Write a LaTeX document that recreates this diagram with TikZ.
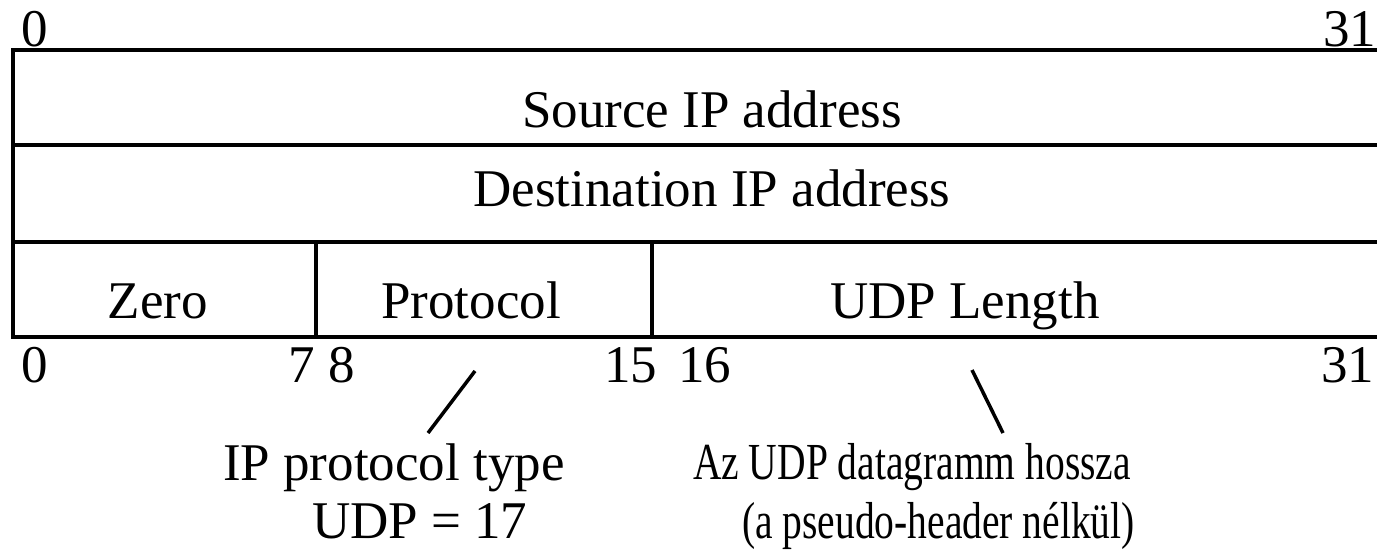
\documentclass[tikz,border=0pt]{standalone}
\usepackage{fontspec}
\setmainfont{Liberation Serif}
\newfontfamily\condfont[FakeStretch=0.76]{Liberation Serif}
\begin{document}
\begin{tikzpicture}[x=1pt,y=-1pt,
  lbl/.style={inner sep=0pt,outer sep=0pt,font=\fontsize{53}{60}\selectfont},
  clbl/.style={inner sep=0pt,outer sep=0pt,font=\fontsize{52}{60}\selectfont\condfont},
  boxline/.style={line width=4pt,line cap=rect},
  pointer/.style={line width=3.5pt}]
\useasboundingbox (0,0) rectangle (1377,553);
% frame
\draw[boxline] (1377,50) -- (13,50) -- (13,337) -- (1377,337);
\draw[boxline] (13,145) -- (1377,145);
\draw[boxline] (13,242) -- (1377,242);
\draw[boxline] (316,242) -- (316,337);
\draw[boxline] (652,242) -- (652,337);
% bit numbers top
\node[lbl,anchor=base west] (t0) at (21,47) {0};
\node[lbl,anchor=base east] (t31) at (1376,47) {31};
% fields
\node[lbl,anchor=base] (src) at (712,128) {Source IP address};
\node[lbl,anchor=base] (dst) at (712,207) {Destination IP address};
\node[lbl,anchor=base] (zero) at (158,319) {Zero};
\node[lbl,anchor=base] (proto) at (471,319) {Protocol};
\node[lbl,anchor=base] (udplen) at (965,319) {UDP Length};
% bit numbers bottom
\node[lbl,anchor=base west] (b0) at (21,383) {0};
\node[lbl,anchor=base east] (b7) at (315,383) {7};
\node[lbl,anchor=base west] (b8) at (328,383) {8};
\node[lbl,anchor=base east] (b15) at (657,383) {15};
\node[lbl,anchor=base west] (b16) at (678,383) {16};
\node[lbl,anchor=base east] (b31) at (1374,383) {31};
% annotations
\node[lbl,anchor=base west] (iptype) at (223,480) {IP protocol type};
\node[lbl,anchor=base west] (udp17) at (312,538) {UDP = 17};
\node[clbl,anchor=base west] (azudp) at (693,479) {Az UDP datagramm hossza};
\node[clbl,anchor=base west] (pseudo) at (742,538) {(a pseudo-header nélkül)};
% pointers
\coordinate (p1a) at (475,371);
\coordinate (p1b) at (428,433);
\coordinate (p2a) at (972,370);
\coordinate (p2b) at (1003,433);
\draw[pointer] (p1a) -- (p1b);
\draw[pointer] (p2a) -- (p2b);
\end{tikzpicture}
\end{document}
